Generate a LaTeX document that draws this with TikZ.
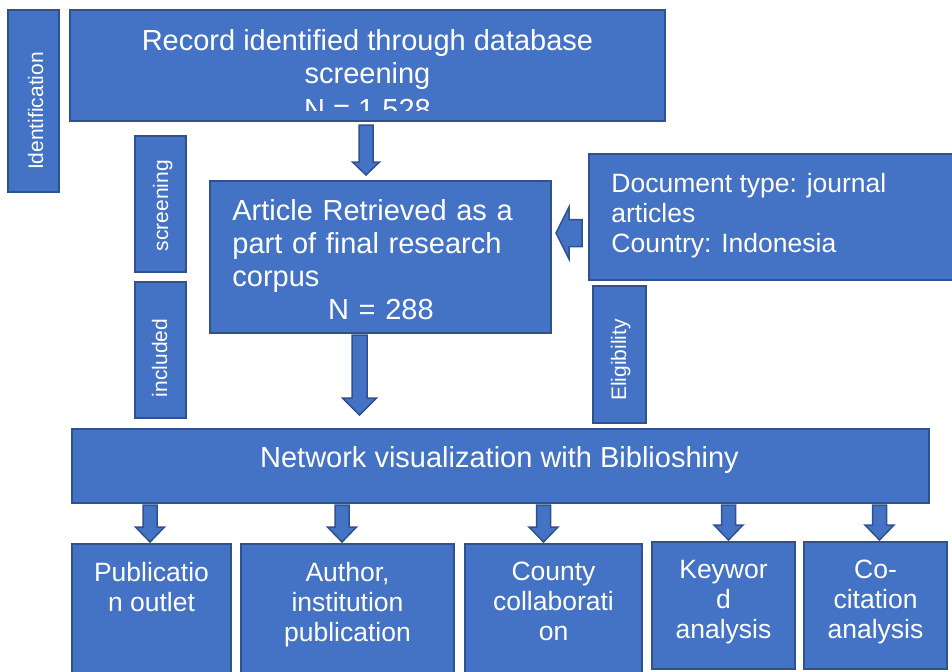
\documentclass[tikz,border=0pt]{standalone}
\usepackage{fontspec}
\setmainfont{Liberation Sans}
\usetikzlibrary{calc,positioning}

\definecolor{boxblue}{HTML}{4472C4}
\definecolor{edgeblue}{HTML}{2F528F}

\tikzset{
	box/.style 2 args={draw=edgeblue, fill=boxblue, line width=1pt, inner sep=0pt,
		minimum width=#1*0.5pt, minimum height=#2*0.5pt},
	txt/.style={text=white, inner sep=0pt},
	small/.style={font=\fontsize{13.25pt}{15pt}\selectfont},
	side/.style={txt, rotate=90, anchor=base, font=\fontsize{10.5pt}{12pt}\selectfont},
	barrow/.style={draw=edgeblue, fill=boxblue, line width=0.75pt, line join=miter}
}

% block arrow: shaft half width, head half width, head length, from, to
\newcommand{\blockarrow}[5]{%
	\path #4 coordinate (ba-s) #5 coordinate (ba-e);
	\coordinate (ba-n) at ($(ba-e)!#3!(ba-s)$);
	\draw[barrow] ($(ba-s)!#1!90:(ba-e)$) -- ($(ba-n)!#1!90:(ba-e)$)
		-- ($(ba-n)!#2!90:(ba-e)$) -- (ba-e) -- ($(ba-n)!#2!-90:(ba-e)$)
		-- ($(ba-n)!#1!-90:(ba-e)$) -- ($(ba-s)!#1!-90:(ba-e)$) -- cycle;
}

\begin{document}
\begin{tikzpicture}[x=0.5pt, y=-0.5pt, font=\fontsize{14.5pt}{16.5pt}\selectfont]
	\useasboundingbox (0,0) rectangle (952,671);

	% stage labels
	\node[box={51}{182}] (idf) at (33.5,101) {};
	\node[side] (idf-t) at (43,111) {Identification};
	\node[box={51}{136}] (scr) at (160.5,204) {};
	\node[side] (scr-t) at (168,205.5) {screening};
	\node[box={51}{136}] (inc) at (160.5,350) {};
	\node[side] (inc-t) at (167,358) {included};
	\node[box={53}{137}] (elg) at (619.5,354.5) {};
	\node[side] (elg-t) at (626,360) {Eligibility};

	% records found
	\node[box={595}{111}] (rec) at (367.5,65.5) {};
	\begin{scope}
		\clip (rec.north west) rectangle ($(rec.south east)+(0,-12)$);
		\node[txt, anchor=north, align=center] (rec-t) at (367.5,29)
			{Record identified through database\\screening\\[1.5pt]N = 1,528};
	\end{scope}

	% final corpus and filter
	\node[box={341}{152}] (art) at (380.5,257) {};
	\node[txt, anchor=north west, text width=148.5pt, align=left] (art-t) at (232,199)
		{Article Retrieved as a\\part of final research\\corpus\\\makebox[\linewidth]{N = 288}};
	\node[box={401}{126}] (doc) at (789.5,217) {};
	\node[txt, small, anchor=north west, align=left] (doc-t) at (611,173)
		{Document type: journal\\articles\\Country: Indonesia};

	\node[box={857}{74}] (net) at (500.5,466) {};
	\node[txt, anchor=base] (net-t) at (499.5,467) {Network visualization with Biblioshiny};

	\blockarrow{3.5pt}{6.75pt}{6.5pt}{($(rec.south)+(-1.5,3)$)}{($(art.north)+(-14.5,-5)$)}
	\blockarrow{3.75pt}{8.5pt}{8.5pt}{($(art.south)+(-21,1)$)}{($(net.north)+(-141,-13)$)}
	\blockarrow{6.75pt}{13pt}{6.5pt}{($(doc.west)+(-6,16)$)}{($(art.east)+(4,-24)$)}

	% analyses
	\foreach \n/\cx/\ty/\w/\h/\dx/\txt in {
		l1/151.5/543/159/157/-1.5/{Publicatio\\n outlet},
		l2/347.5/543/213/157/-5.5/{Author,\\institution\\publication},
		l3/553.5/543/177/157/-10/{County\\collaborati\\on},
		l4/723.5/541/143/127/5/{Keywor\\d\\analysis},
		l5/875.5/541/143/127/4/{Co-\\citation\\analysis}}
	{
		\node[box={\w}{\h}, anchor=north] (\n) at (\cx,\ty) {};
		\node[txt, small, align=center, below=9.5pt of \n.north] (\n-t) {\txt};
		\blockarrow{3.5pt}{7.25pt}{7.5pt}{($(net.south -| \n.north)+(\dx,1)$)}{($(\n.north)+(\dx,-1)$)}
	}
\end{tikzpicture}
\end{document}
